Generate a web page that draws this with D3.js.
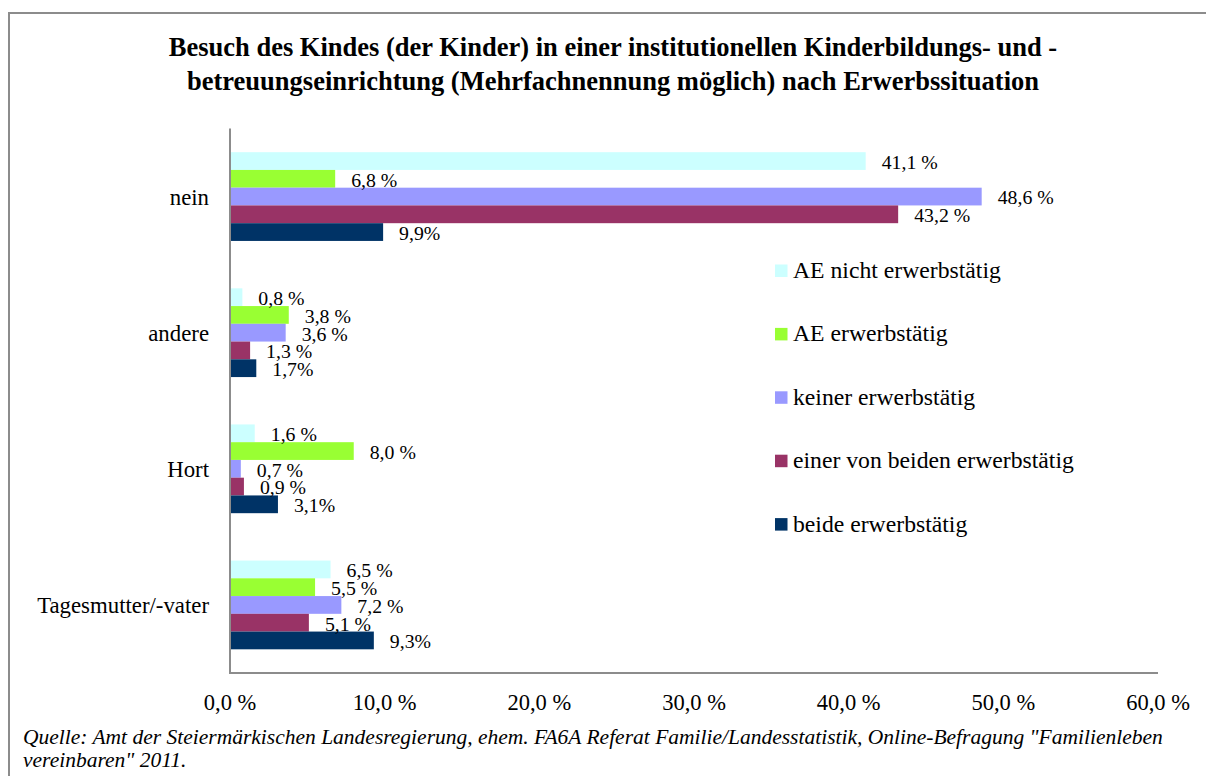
<!DOCTYPE html>
<html>
<head>
<meta charset="utf-8">
<script src="https://cdn.jsdelivr.net/npm/d3@7"></script>
</head>
<body style="margin:0; background:#fff">
<div id="chart"></div>
<script>
var categories = ["nein", "andere", "Hort", "Tagesmutter/-vater"]
var series = ["AE nicht erwerbstätig", "AE erwerbstätig", "keiner erwerbstätig", "einer von beiden erwerbstätig", "beide erwerbstätig"]
var colors = ["#ccffff", "#99ff33", "#9999ff", "#993366", "#003366"]
var labelSuffix = [" %", " %", " %", " %", "%"]

// values per series, in category order
var aeNicht = [41.1, 0.8, 1.6, 6.5]
var aeErw = [6.8, 3.8, 8.0, 5.5]
var keiner = [48.6, 3.6, 0.7, 7.2]
var einer = [43.2, 1.3, 0.9, 5.1]
var beide = [9.9, 1.7, 3.1, 9.3]
var values = [aeNicht, aeErw, keiner, einer, beide]

var xTicks = [0, 10, 20, 30, 40, 50, 60]

var titleLines = ["Besuch des Kindes (der Kinder) in einer institutionellen Kinderbildungs- und -",
                  "betreuungseinrichtung (Mehrfachnennung möglich) nach Erwerbssituation"]
var sourceLines = ["Quelle: Amt der Steiermärkischen Landesregierung, ehem. FA6A Referat Familie/Landesstatistik, Online-Befragung \"Familienleben",
                   "vereinbaren\" 2011."]

var FONT = "Liberation Serif"
var W = 1206, H = 776
var plot = {left: 230, right: 1158, top: 128.5, bottom: 673}

var svg = d3.select("#chart").append("svg")
    .attr("width", W)
    .attr("height", H)

// frame
svg.append("path")
    .attr("d", "M9," + H + "V13H" + W)
    .attr("fill", "none")
    .attr("stroke", "#8c8c8c")
    .attr("stroke-width", 2)

// title
svg.selectAll(".title").data(titleLines).enter()
  .append("text")
    .attr("class", "title")
    .attr("font-family", FONT)
    .attr("font-size", "26.5px")
    .attr("font-weight", "bold")
    .attr("x", 613)
    .attr("y", function(d, i){ return 56 + i * 34 })
    .attr("text-anchor", "middle")
    .text(function(d){ return d })

var x = d3.scaleLinear().domain([0, 60]).range([plot.left, plot.right])
var y0 = d3.scaleBand().domain(categories).range([plot.top, plot.bottom])
    .paddingInner(0.348).paddingOuter(0.174)
var y1 = d3.scaleBand().domain(d3.range(series.length)).range([0, y0.bandwidth()])

var rows = []
categories.forEach(function(c, ci){
  series.forEach(function(s, si){
    rows.push({cat: c, s: si, v: values[si][ci]})
  })
})

// bars
svg.selectAll(".bar").data(rows).enter()
  .append("rect")
    .attr("class", "bar")
    .attr("x", x(0))
    .attr("y", function(d){ return y0(d.cat) + y1(d.s) })
    .attr("width", function(d){ return x(d.v) - x(0) })
    .attr("height", y1.bandwidth())
    .attr("fill", function(d){ return colors[d.s] })

// value labels
svg.selectAll(".val").data(rows).enter()
  .append("text")
    .attr("class", "val")
    .attr("font-family", FONT)
    .attr("font-size", "19.8px")
    .attr("x", function(d){ return x(d.v) + 16 })
    .attr("y", function(d){ return y0(d.cat) + y1(d.s) + y1.bandwidth() - 1 })
    .text(function(d){ return d3.format(".1f")(d.v).replace(".", ",") + labelSuffix[d.s] })

// axes lines
svg.append("path")
    .attr("d", "M" + plot.left + "," + plot.top + "V" + plot.bottom + "H" + plot.right)
    .attr("fill", "none")
    .attr("stroke", "#8c8c8c")
    .attr("stroke-width", 2)

// category labels
svg.selectAll(".cat").data(categories).enter()
  .append("text")
    .attr("class", "cat")
    .attr("font-family", FONT)
    .attr("font-size", "22.8px")
    .attr("x", 209)
    .attr("y", function(d){ return y0(d) + y0.bandwidth() / 2 + 8 })
    .attr("text-anchor", "end")
    .text(function(d){ return d })

// x tick labels
svg.selectAll(".tick").data(xTicks).enter()
  .append("text")
    .attr("class", "tick")
    .attr("font-family", FONT)
    .attr("font-size", "22.5px")
    .attr("x", function(d){ return x(d) })
    .attr("y", 710)
    .attr("text-anchor", "middle")
    .text(function(d){ return d3.format(".1f")(d).replace(".", ",") + " %" })

// legend
var legend = svg.selectAll(".leg").data(series).enter()
  .append("g")
    .attr("class", "leg")
    .attr("transform", function(d, i){ return "translate(775," + (264.5 + i * 63.4) + ")" })
legend.append("rect")
    .attr("width", 12.5).attr("height", 12.5)
    .attr("fill", function(d, i){ return colors[i] })
legend.append("text")
    .attr("font-family", FONT)
    .attr("font-size", "23.7px")
    .attr("x", 18)
    .attr("y", 13.5)
    .text(function(d){ return d })

// source
svg.selectAll(".src").data(sourceLines).enter()
  .append("text")
    .attr("class", "src")
    .attr("font-family", FONT)
    .attr("font-size", "21.5px")
    .attr("font-style", "italic")
    .attr("x", 23)
    .attr("y", function(d, i){ return 744 + i * 23 })
    .text(function(d){ return d })
</script>
</body>
</html>
